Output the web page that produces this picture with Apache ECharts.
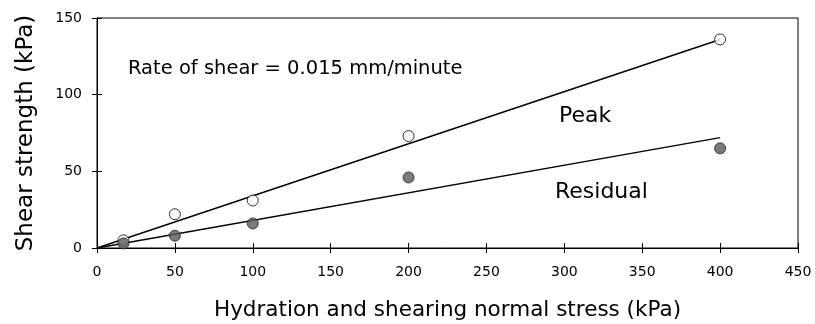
<!DOCTYPE html>
<html>
<head>
<meta charset="utf-8">
<script src="https://cdn.jsdelivr.net/npm/echarts@6/dist/echarts.min.js"></script>
<style>
  html, body { margin: 0; padding: 0; background: #fff; }
  #chart { width: 815px; height: 324px; }
</style>
</head>
<body>
<div id="chart"></div>
<script>
// normal stress (kPa)
const stress = [17, 50, 100, 200, 400];
const peakValues = [5, 22, 31, 73, 136];
const residualValues = [3, 8, 16, 46, 65];
// fitted lines, end points
const peakFit = [[0, 0], [400, 136]];
const residualFit = [[0, 0], [400, 72]];

const font = '"DejaVu Sans", sans-serif';
const chart = echarts.init(document.getElementById('chart'));

const tickStyle = { show: true, inside: true, length: 5, lineStyle: { color: '#000' } };

chart.setOption({
  animation: false,
  grid: {
    left: 97, right: 17, top: 18, bottom: 76,
    outerBoundsMode: 'none',
    show: true, borderColor: '#000', borderWidth: 1
  },
  xAxis: [
    {
      type: 'value', min: 0, max: 450, interval: 50,
      name: 'Hydration and shearing normal stress (kPa)',
      nameLocation: 'middle', nameGap: 51,
      nameTextStyle: { fontFamily: font, fontSize: 21.5, color: '#000' },
      axisLine: { show: true, lineStyle: { color: '#000' } },
      axisTick: tickStyle,
      splitLine: { show: false },
      axisLabel: { fontFamily: font, fontSize: 14, color: '#000', margin: 17 }
    },
    {
      type: 'value', position: 'top', min: 0, max: 450, interval: 50,
      axisLine: { show: true, lineStyle: { color: '#000' } },
      axisTick: tickStyle, axisLabel: { show: false }, splitLine: { show: false }
    }
  ],
  yAxis: [
    {
      type: 'value', min: 0, max: 150, interval: 50,
      name: 'Shear strength (kPa)',
      nameLocation: 'middle', nameGap: 59,
      nameTextStyle: { fontFamily: font, fontSize: 23, color: '#000' },
      axisLine: { show: true, lineStyle: { color: '#000' } },
      axisTick: tickStyle,
      splitLine: { show: false },
      axisLabel: { fontFamily: font, fontSize: 14, color: '#000', margin: 15 }
    },
    {
      type: 'value', position: 'right', min: 0, max: 150, interval: 50,
      axisLine: { show: true, lineStyle: { color: '#000' } },
      axisTick: tickStyle, axisLabel: { show: false }, splitLine: { show: false }
    }
  ],
  graphic: [
    { type: 'text', left: 128, top: 59, style: { text: 'Rate of shear = 0.015 mm/minute', font: '19.5px ' + font, fill: '#000' } },
    { type: 'text', left: 559, top: 105, style: { text: 'Peak', font: '22px ' + font, fill: '#000' } },
    { type: 'text', left: 555, top: 181, style: { text: 'Residual', font: '22px ' + font, fill: '#000' } }
  ],
  series: [
    {
      type: 'line', data: peakFit, symbol: 'none', z: 1,
      lineStyle: { color: '#000', width: 1.4 }
    },
    {
      type: 'line', data: residualFit, symbol: 'none', z: 1,
      lineStyle: { color: '#000', width: 1.4 }
    },
    {
      type: 'scatter', z: 3,
      data: stress.map((x, i) => [x, peakValues[i]]),
      symbol: 'circle', symbolSize: 11,
      itemStyle: { color: '#fff', borderColor: '#000', borderWidth: 1 }
    },
    {
      type: 'scatter', z: 3,
      data: stress.map((x, i) => [x, residualValues[i]]),
      symbol: 'circle', symbolSize: 11,
      itemStyle: { color: '#5a5a5a', borderColor: '#222', borderWidth: 1 }
    }
  ]
});
</script>
</body>
</html>
